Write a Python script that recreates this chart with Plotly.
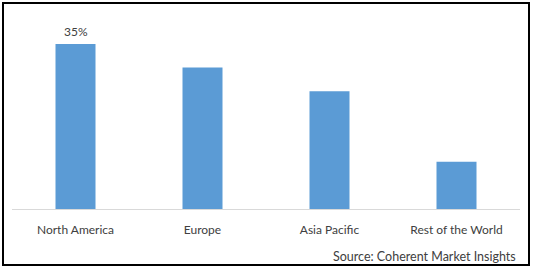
import plotly.graph_objects as go

categories = ["North America", "Europe", "Asia Pacific", "Rest of the World"]
values = [35, 30, 25, 10]
labels = ["35%", "", "", ""]
source_text = "Source: Coherent Market Insights"

W, H = 538, 272
L, R, T, B = 12, 18, 10, 63
plot_w = W - L - R
plot_h = H - T - B
px_per_unit = 165 / 35
ymax = plot_h / px_per_unit

def px_x(p):
    return (p - L) / plot_w

def px_y(p):
    return (H - B - p) / plot_h

fig = go.Figure()
fig.add_trace(go.Bar(
    x=categories, y=values,
    marker=dict(color="#5B9BD5", line=dict(width=0)),
    width=0.315, cliponaxis=False,
))

annotations = [dict(text=source_text, xref="paper", yref="paper",
                    x=px_x(518), y=px_y(256), xanchor="right", yanchor="middle",
                    showarrow=False,
                    font=dict(family="Lato", size=12.5, color="#404040"))]
for c, v, t in zip(categories, values, labels):
    if t:
        annotations.append(dict(text=t, x=c, y=v, xref="x", yref="y",
                                yanchor="middle", yshift=13, showarrow=False,
                                font=dict(family="Lato", size=12, color="#404040")))

fig.update_layout(
    width=W, height=H,
    margin=dict(l=L, r=R, t=T, b=B),
    paper_bgcolor="white", plot_bgcolor="white",
    showlegend=False,
    font=dict(family="Lato", size=12, color="#404040"),
    xaxis=dict(showline=True, linecolor="#d9d9d9", linewidth=1, showgrid=False,
               ticks="", ticklabelstandoff=10,
               tickfont=dict(family="Lato", size=12, color="#404040")),
    yaxis=dict(range=[0, ymax], visible=False, showgrid=False, zeroline=False),
    shapes=[dict(type="rect", xref="paper", yref="paper",
                 x0=px_x(3), x1=px_x(529), y0=px_y(265), y1=px_y(3),
                 line=dict(color="black", width=2), fillcolor="rgba(0,0,0,0)")],
    annotations=annotations,
)

fig.write_html("out.html")
